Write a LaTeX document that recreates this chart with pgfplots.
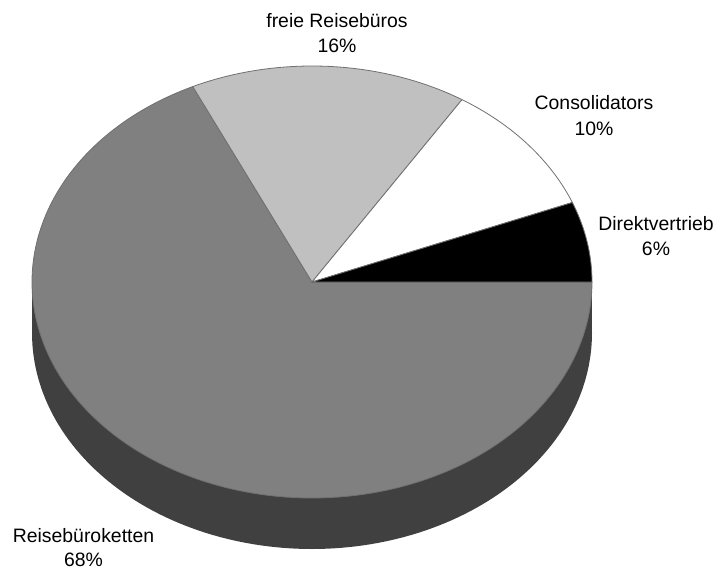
\documentclass[border=0pt]{standalone}
\usepackage{fontspec}
\setmainfont{Liberation Sans}
\usepackage{pgfplots}
\pgfplotsset{compat=1.18}
\definecolor{cDirekt}{HTML}{000000}
\definecolor{cCons}{HTML}{FFFFFF}
\definecolor{cFreie}{HTML}{C0C0C0}
\definecolor{cKetten}{HTML}{808080}
\definecolor{cSide}{HTML}{404040}
\definecolor{cEdge}{HTML}{707070}
% shares in percent
\def\pDirekt{6}
\def\pCons{10}
\def\pFreie{16}
\def\pKetten{68}
\pgfmathsetmacro\aA{0}
\pgfmathsetmacro\aB{\aA+3.6*\pDirekt}
\pgfmathsetmacro\aC{\aB+3.6*\pCons}
\pgfmathsetmacro\aD{\aC+3.6*\pFreie}
\pgfmathsetmacro\aE{\aD+3.6*\pKetten}
\def\cx{312}
\def\cy{287}
\def\rx{280}
\def\ry{216}
\def\dz{51}
\begin{document}
\begin{tikzpicture}
\begin{axis}[
  width=358.5pt, height=284.5pt, scale only axis,
  xmin=0, xmax=717, ymin=0, ymax=569,
  hide axis, clip=false,
  every axis plot/.append style={line join=round},
]
% side of the cylinder
\addplot[fill=cSide, draw=none, domain=0:360, samples=241] ({\cx+\rx*cos(x)},{\cy-\dz+\ry*sin(x)});
\addplot[fill=cSide, draw=none] coordinates {(32,287) (592,287) (592,236) (32,236)} -- cycle;
% top face sectors
\addplot[fill=cKetten, draw=cEdge, line width=0.4pt, domain=\aD:\aE, samples=200] ({\cx+\rx*cos(x)},{\cy+\ry*sin(x)}) -- (axis cs:\cx,\cy) -- cycle;
\addplot[fill=cFreie, draw=cEdge, line width=0.4pt, domain=\aC:\aD, samples=60] ({\cx+\rx*cos(x)},{\cy+\ry*sin(x)}) -- (axis cs:\cx,\cy) -- cycle;
\addplot[fill=cCons, draw=cEdge, line width=0.4pt, domain=\aB:\aC, samples=40] ({\cx+\rx*cos(x)},{\cy+\ry*sin(x)}) -- (axis cs:\cx,\cy) -- cycle;
\addplot[fill=cDirekt, draw=cEdge, line width=0.4pt, domain=\aA:\aB, samples=30] ({\cx+\rx*cos(x)},{\cy+\ry*sin(x)}) -- (axis cs:\cx,\cy) -- cycle;
% labels
\tikzset{lbl/.style={anchor=base, inner sep=0pt, font=\fontsize{9.7}{12}\selectfont}}
\node[lbl] at (axis cs:337,541.5) {freie Reisebüros};
\node[lbl] at (axis cs:337,516.5) {16\%};
\node[lbl] at (axis cs:594,459) {Consolidators};
\node[lbl] at (axis cs:594,434) {10\%};
\node[lbl] at (axis cs:656,339) {Direktvertrieb};
\node[lbl] at (axis cs:656,314) {6\%};
\node[lbl] at (axis cs:83.5,26.5) {Reisebüroketten};
\node[lbl] at (axis cs:83.5,2.5) {68\%};
\end{axis}
\pgfresetboundingbox
\path[use as bounding box] (current axis.south west) rectangle (current axis.north east);
\end{tikzpicture}
\end{document}
